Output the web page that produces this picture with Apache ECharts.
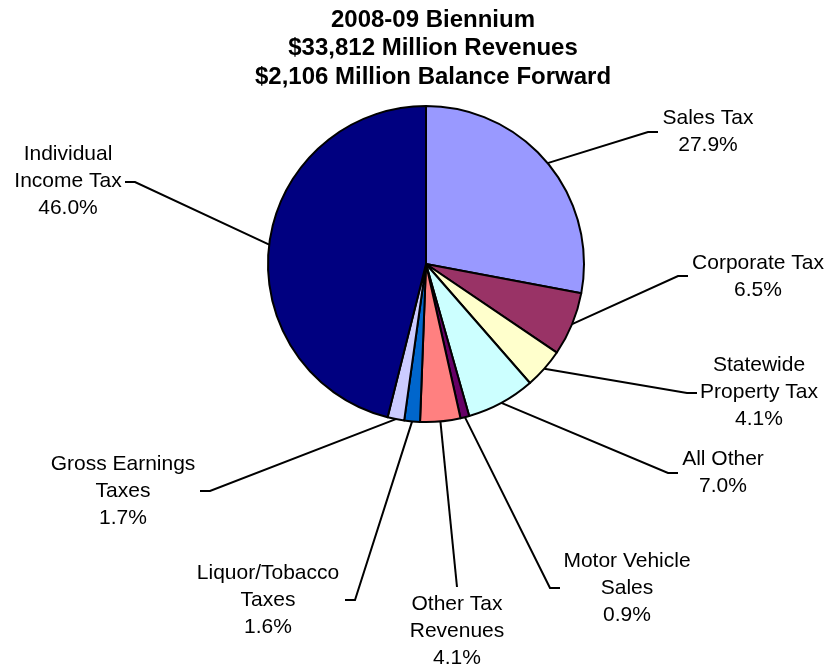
<!DOCTYPE html>
<html>
<head>
<meta charset="utf-8">
<script src="https://cdn.jsdelivr.net/npm/echarts@6/dist/echarts.min.js"></script>
<style>
html,body{margin:0;padding:0;background:#fff;}
#chart{width:830px;height:671px;}
</style>
</head>
<body>
<div id="chart"></div>
<script>
const titleLines = ['2008-09 Biennium', '$33,812 Million Revenues', '$2,106 Million Balance Forward'];
const categories = ['Sales Tax', 'Corporate Tax', 'Statewide\nProperty Tax', 'All Other', 'Motor Vehicle\nSales', 'Other Tax\nRevenues', 'Liquor/Tobacco\nTaxes', 'Gross Earnings\nTaxes', 'Individual\nIncome Tax'];
const values = [27.9, 6.5, 4.1, 7.0, 0.9, 4.1, 1.6, 1.7, 46.0];
const colors = ['#9999FF', '#993366', '#FFFFCC', '#CCFFFF', '#660066', '#FF8080', '#0066CC', '#CCCCFF', '#000080'];

// label layout: [labelCenterX, labelCenterY, elbowX, elbowY, endX, endY]
const labelLayoutPos = [
  [708, 131.5, 648, 132, 658, 132],
  [758, 276.5, 678, 276, 688, 276],
  [759, 392, 687, 393, 697, 393],
  [723, 473, 668, 473, 678, 473],
  [627, 588, 550, 588, 560, 588],
  [457, 631, 457, 587, 457, 587],
  [268, 600, 355, 600, 345, 600],
  [123, 491, 210, 491, 200, 491],
  [68, 181, 135, 182, 125, 182]
];

const chart = echarts.init(document.getElementById('chart'));
const FONT = '"Liberation Sans", Arial, sans-serif';

chart.setOption({
  animation: false,
  backgroundColor: '#fff',
  graphic: [{
    type: 'text',
    x: 433,
    y: 48.5,
    style: {
      text: titleLines.join('\n'),
      align: 'center',
      verticalAlign: 'middle',
      fontFamily: FONT,
      fontSize: 24,
      fontWeight: 'bold',
      lineHeight: 28.5,
      fill: '#000'
    }
  }],
  series: [{
    type: 'pie',
    center: [426, 264],
    radius: 158,
    startAngle: 90,
    clockwise: true,
    avoidLabelOverlap: false,
    silent: true,
    data: categories.map((c, i) => ({ name: c, value: values[i], itemStyle: { color: colors[i] } })),
    itemStyle: { borderColor: '#000', borderWidth: 2 },
    label: {
      show: true,
      position: 'outside',
      formatter: p => p.name + '\n' + p.value.toFixed(1) + '%',
      fontFamily: FONT,
      fontSize: 21,
      lineHeight: 27,
      color: '#000',
      align: 'center'
    },
    labelLine: {
      show: true,
      length: 10,
      length2: 10,
      lineStyle: { color: '#000', width: 2 }
    },
    labelLayout: function (params) {
      const L = labelLayoutPos[params.dataIndex];
      const p0 = params.labelLinePoints ? params.labelLinePoints[0] : [L[2], L[3]];
      return {
        x: L[0],
        y: L[1],
        align: 'center',
        verticalAlign: 'middle',
        labelLinePoints: [p0, [L[2], L[3]], [L[4], L[5]]]
      };
    }
  }]
});
</script>
</body>
</html>
